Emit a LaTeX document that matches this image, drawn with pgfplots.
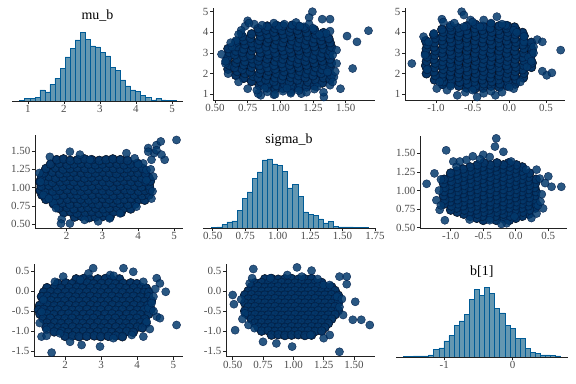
\documentclass[border=0pt]{standalone}
\usepackage{fontspec}
\setmainfont{Liberation Serif}
\usepackage{pgfplots}
\usepackage{pgfplotstable}
\pgfplotsset{compat=1.18}
\definecolor{ptfill}{HTML}{03396C}
\definecolor{ptedge}{HTML}{011F4B}
\definecolor{ptcore}{HTML}{0C3463}
\definecolor{hfill}{HTML}{6497B1}
\definecolor{hedge}{HTML}{005B96}
\definecolor{axcol}{HTML}{222222}
\definecolor{tickcol}{HTML}{4D4D4D}
\newcommand\ticksz{\fontsize{11}{12}\selectfont}
\newcommand\titlesz{\fontsize{14}{16}\selectfont}
\pgfplotsset{
  pbase/.style={scale only axis, axis x line*=bottom, axis y line*=left,
    axis line style={-, line width=0.7pt, draw=axcol},
    tick align=outside, major tick length=3bp,
    tick style={line width=0.7pt, draw=axcol},
    xticklabel style={font=\ticksz, text=tickcol, inner sep=1pt},
    yticklabel style={font=\ticksz, text=tickcol, inner sep=1.5pt},
    minor tick num=0},
  phist/.style={pbase, axis y line=none, ytick=\empty, ymin=0, ymax=216,
    title style={font=\titlesz, at={(0.5,1)}, anchor=base, yshift=4bp}},
  core/.style={only marks, mark=*, mark size=4.6pt, mark options={fill=ptcore, draw=none}},
  pts/.style={only marks, mark=*, mark size=4.1pt, mark options={fill=ptfill, draw=ptedge, line width=0.4pt, fill opacity=0.5, draw opacity=0.8}},
  out/.style={only marks, mark=*, mark size=4.1pt, mark options={fill=ptfill, draw=ptedge, line width=0.4pt, fill opacity=0.85, draw opacity=0.9}},
  hbar/.style={ybar interval, fill=hfill, draw=hedge, line width=0.5pt},
}
\begin{document}
\pgfplotstableread{
mu sigma
2.22 0.60
2.41 0.61
2.63 0.59
2.80 0.60
3.02 0.61
3.21 0.60
1.92 0.66
2.11 0.67
2.29 0.65
2.52 0.66
2.70 0.67
2.91 0.65
3.09 0.66
3.31 0.67
3.52 0.66
1.78 0.72
2.01 0.73
2.20 0.71
2.42 0.72
2.59 0.73
2.81 0.72
3.02 0.71
3.19 0.72
3.41 0.73
3.60 0.72
3.79 0.71
1.63 0.78
1.88 0.79
2.09 0.77
2.31 0.78
2.50 0.79
2.72 0.78
2.89 0.77
3.11 0.78
3.30 0.79
3.49 0.78
3.71 0.77
3.92 0.78
1.42 0.84
1.61 0.85
1.79 0.83
2.02 0.84
2.21 0.85
2.39 0.84
2.62 0.83
2.80 0.84
3.01 0.85
3.19 0.84
3.42 0.83
3.61 0.84
3.80 0.85
4.02 0.84
4.18 0.83
1.31 0.90
1.52 0.91
1.70 0.89
1.91 0.90
2.12 0.91
2.29 0.90
2.50 0.89
2.71 0.90
2.92 0.91
3.09 0.90
3.30 0.89
3.51 0.90
3.70 0.91
3.89 0.90
4.11 0.89
4.30 0.90
1.26 0.96
1.42 0.97
1.61 0.95
1.80 0.96
2.01 0.97
2.22 0.96
2.40 0.95
2.59 0.96
2.81 0.97
3.00 0.96
3.21 0.95
3.40 0.96
3.62 0.97
3.79 0.96
4.01 0.95
4.19 0.96
4.33 0.97
1.29 1.02
1.50 1.03
1.71 1.01
1.89 1.02
2.10 1.03
2.31 1.02
2.49 1.01
2.70 1.02
2.91 1.03
3.10 1.02
3.29 1.01
3.50 1.02
3.71 1.03
3.90 1.02
4.09 1.01
4.31 1.02
1.25 1.08
1.41 1.09
1.60 1.07
1.82 1.08
1.99 1.09
2.20 1.08
2.41 1.07
2.60 1.08
2.79 1.09
3.01 1.08
3.20 1.07
3.41 1.08
3.59 1.09
3.80 1.08
4.02 1.07
4.20 1.08
4.34 1.09
1.30 1.14
1.51 1.15
1.69 1.13
1.90 1.14
2.11 1.15
2.30 1.14
2.50 1.13
2.69 1.14
2.90 1.15
3.11 1.14
3.30 1.13
3.49 1.14
3.70 1.15
3.91 1.14
4.10 1.13
4.29 1.14
1.36 1.20
1.60 1.21
1.81 1.19
2.00 1.20
2.19 1.21
2.41 1.20
2.60 1.19
2.80 1.20
3.01 1.21
3.20 1.20
3.39 1.19
3.61 1.20
3.80 1.21
3.99 1.20
4.20 1.19
1.42 1.26
1.69 1.27
1.90 1.25
2.09 1.26
2.30 1.27
2.51 1.26
2.70 1.25
2.89 1.26
3.10 1.27
3.31 1.26
3.50 1.25
3.69 1.26
3.90 1.27
4.12 1.26
1.55 1.32
1.80 1.33
2.01 1.31
2.20 1.32
2.40 1.33
2.61 1.32
2.80 1.31
2.99 1.32
3.20 1.33
3.41 1.32
3.60 1.31
3.79 1.32
3.98 1.33
1.72 1.38
1.91 1.39
2.10 1.37
2.31 1.38
2.50 1.39
2.70 1.38
2.91 1.37
3.10 1.38
3.29 1.39
3.50 1.38
3.70 1.37
}\blobA
\pgfplotstableread{
mu b
2.31 0.30
2.52 0.31
2.69 0.29
2.91 0.30
3.12 0.31
3.29 0.29
3.51 0.30
1.80 0.19
2.02 0.20
2.19 0.18
2.41 0.19
2.62 0.20
2.79 0.18
3.01 0.19
3.22 0.20
3.39 0.18
3.61 0.19
3.82 0.20
3.99 0.18
1.50 0.08
1.71 0.09
1.89 0.07
2.11 0.08
2.32 0.09
2.49 0.07
2.70 0.08
2.91 0.09
3.09 0.07
3.31 0.08
3.52 0.09
3.69 0.07
3.90 0.08
4.11 0.09
4.25 0.07
1.41 -0.03
1.60 -0.02
1.79 -0.04
2.01 -0.03
2.22 -0.02
2.39 -0.04
2.60 -0.03
2.81 -0.02
2.99 -0.04
3.20 -0.03
3.41 -0.02
3.59 -0.04
3.80 -0.03
4.01 -0.02
4.19 -0.04
4.32 -0.03
1.35 -0.14
1.51 -0.13
1.70 -0.15
1.91 -0.14
2.10 -0.13
2.29 -0.15
2.51 -0.14
2.70 -0.13
2.89 -0.15
3.11 -0.14
3.30 -0.13
3.49 -0.15
3.71 -0.14
3.90 -0.13
4.09 -0.15
4.31 -0.14
1.40 -0.25
1.61 -0.24
1.80 -0.26
1.99 -0.25
2.21 -0.24
2.40 -0.26
2.59 -0.25
2.81 -0.24
3.00 -0.26
3.19 -0.25
3.41 -0.24
3.60 -0.26
3.79 -0.25
4.01 -0.24
4.20 -0.26
4.39 -0.25
1.30 -0.36
1.51 -0.35
1.70 -0.37
1.89 -0.36
2.11 -0.35
2.30 -0.37
2.49 -0.36
2.71 -0.35
2.90 -0.37
3.09 -0.36
3.31 -0.35
3.50 -0.37
3.69 -0.36
3.91 -0.35
4.10 -0.37
4.29 -0.36
1.27 -0.47
1.41 -0.46
1.60 -0.48
1.79 -0.47
2.01 -0.46
2.20 -0.48
2.39 -0.47
2.61 -0.46
2.80 -0.48
2.99 -0.47
3.21 -0.46
3.40 -0.48
3.59 -0.47
3.81 -0.46
4.00 -0.48
4.19 -0.47
4.38 -0.46
1.31 -0.58
1.50 -0.57
1.69 -0.59
1.91 -0.58
2.10 -0.57
2.29 -0.59
2.51 -0.58
2.70 -0.57
2.89 -0.59
3.11 -0.58
3.30 -0.57
3.49 -0.59
3.71 -0.58
3.90 -0.57
4.09 -0.59
4.31 -0.58
1.40 -0.69
1.59 -0.68
1.81 -0.70
2.00 -0.69
2.19 -0.68
2.41 -0.70
2.60 -0.69
2.79 -0.68
3.01 -0.70
3.20 -0.69
3.39 -0.68
3.61 -0.70
3.80 -0.69
3.99 -0.68
4.21 -0.70
1.50 -0.80
1.71 -0.79
1.89 -0.81
2.10 -0.80
2.31 -0.79
2.49 -0.81
2.70 -0.80
2.91 -0.79
3.09 -0.81
3.30 -0.80
3.51 -0.79
3.69 -0.81
3.90 -0.80
4.09 -0.79
4.24 -0.81
1.48 -0.91
1.61 -0.90
1.80 -0.92
1.99 -0.91
2.21 -0.90
2.40 -0.92
2.59 -0.91
2.81 -0.90
3.00 -0.92
3.19 -0.91
3.41 -0.90
3.60 -0.92
3.79 -0.91
4.01 -0.90
4.14 -0.92
1.70 -1.02
1.91 -1.01
2.09 -1.03
2.30 -1.02
2.51 -1.01
2.69 -1.03
2.90 -1.02
3.11 -1.01
3.29 -1.03
3.50 -1.02
3.71 -1.01
3.89 -1.03
2.00 -1.13
2.21 -1.12
2.39 -1.14
2.60 -1.13
2.81 -1.12
2.99 -1.14
3.20 -1.13
3.41 -1.12
3.59 -1.14
}\blobB
\pgfplotstableread{
sigma b
0.765 0.30
0.820 0.31
0.875 0.29
0.930 0.30
0.985 0.31
1.040 0.29
1.095 0.30
1.150 0.31
0.683 0.20
0.738 0.21
0.793 0.19
0.848 0.20
0.903 0.21
0.958 0.19
1.013 0.20
1.068 0.21
1.123 0.19
1.178 0.20
1.233 0.21
0.655 0.10
0.710 0.11
0.765 0.09
0.820 0.10
0.875 0.11
0.930 0.09
0.985 0.10
1.040 0.11
1.095 0.09
1.150 0.10
1.205 0.11
1.260 0.09
1.315 0.10
0.628 0.00
0.683 0.01
0.738 -0.01
0.793 0.00
0.848 0.01
0.903 -0.01
0.958 0.00
1.013 0.01
1.068 -0.01
1.123 0.00
1.178 0.01
1.233 -0.01
1.288 0.00
1.343 0.01
0.600 -0.10
0.655 -0.09
0.710 -0.11
0.765 -0.10
0.820 -0.09
0.875 -0.11
0.930 -0.10
0.985 -0.09
1.040 -0.11
1.095 -0.10
1.150 -0.09
1.205 -0.11
1.260 -0.10
1.315 -0.09
1.370 -0.11
0.628 -0.20
0.683 -0.19
0.738 -0.21
0.793 -0.20
0.848 -0.19
0.903 -0.21
0.958 -0.20
1.013 -0.19
1.068 -0.21
1.123 -0.20
1.178 -0.19
1.233 -0.21
1.288 -0.20
1.343 -0.19
0.600 -0.30
0.655 -0.31
0.710 -0.29
0.765 -0.30
0.820 -0.31
0.875 -0.29
0.930 -0.30
0.985 -0.31
1.040 -0.29
1.095 -0.30
1.150 -0.31
1.205 -0.29
1.260 -0.30
1.315 -0.31
1.370 -0.29
0.628 -0.40
0.683 -0.39
0.738 -0.41
0.793 -0.40
0.848 -0.39
0.903 -0.41
0.958 -0.40
1.013 -0.39
1.068 -0.41
1.123 -0.40
1.178 -0.39
1.233 -0.41
1.288 -0.40
1.343 -0.39
0.600 -0.50
0.655 -0.51
0.710 -0.49
0.765 -0.50
0.820 -0.51
0.875 -0.49
0.930 -0.50
0.985 -0.51
1.040 -0.49
1.095 -0.50
1.150 -0.51
1.205 -0.49
1.260 -0.50
1.315 -0.51
1.370 -0.49
0.628 -0.60
0.683 -0.59
0.738 -0.61
0.793 -0.60
0.848 -0.59
0.903 -0.61
0.958 -0.60
1.013 -0.59
1.068 -0.61
1.123 -0.60
1.178 -0.59
1.233 -0.61
1.288 -0.60
1.343 -0.59
0.655 -0.70
0.710 -0.71
0.765 -0.69
0.820 -0.70
0.875 -0.71
0.930 -0.69
0.985 -0.70
1.040 -0.71
1.095 -0.69
1.150 -0.70
1.205 -0.71
1.260 -0.69
1.315 -0.70
0.683 -0.80
0.738 -0.79
0.793 -0.81
0.848 -0.80
0.903 -0.79
0.958 -0.81
1.013 -0.80
1.068 -0.79
1.123 -0.81
1.178 -0.80
1.233 -0.79
1.288 -0.81
0.710 -0.90
0.765 -0.91
0.820 -0.89
0.875 -0.90
0.930 -0.91
0.985 -0.89
1.040 -0.90
1.095 -0.91
1.150 -0.89
1.205 -0.90
1.260 -0.91
0.738 -1.00
0.793 -0.99
0.848 -1.01
0.903 -1.00
0.958 -0.99
1.013 -1.01
1.068 -1.00
1.123 -0.99
1.178 -1.01
1.233 -1.00
0.820 -1.10
0.875 -1.09
0.930 -1.11
0.985 -1.10
1.040 -1.09
1.095 -1.11
1.150 -1.10
}\blobC
\begin{tikzpicture}
\path[use as bounding box] (0,0) rectangle (576bp,384bp);
% ---------- row 1 ----------
\begin{axis}[phist, at={(12bp,283bp)}, anchor=south west, width=171bp, height=72bp,
  xmin=0.556, xmax=5.306, xtick={1,2,3,4,5}, xticklabels={1,2,3,4,5}, title={mu\_b}]
\addplot[hbar] coordinates {(0.77,2) (0.91,7) (1.05,7) (1.19,10) (1.33,33) (1.47,27) (1.61,50) (1.75,68) (1.89,98) (2.03,132) (2.17,157) (2.31,183) (2.45,206) (2.59,185) (2.73,165) (2.87,162) (3.01,145) (3.15,135) (3.29,100) (3.43,92) (3.57,63) (3.71,45) (3.85,33) (3.99,28) (4.13,17) (4.27,10) (4.41,3) (4.55,8) (4.69,3) (4.83,2) (4.97,2) (5.11,0)};
\end{axis}
\begin{axis}[pbase, at={(213bp,284bp)}, anchor=south west, width=162bp, height=92bp,
  xmin=0.4847, xmax=1.724, ymin=0.724, ymax=5.18,
  xtick={0.5,0.75,1,1.25,1.5}, xticklabels={0.50,0.75,1.00,1.25,1.50},
  ytick={1,2,3,4,5}, yticklabels={1,2,3,4,5}]
\addplot[core] table[x=sigma, y=mu] {\blobA};
\addplot[pts] table[x=sigma, y=mu] {\blobA};
\addplot[out] table {
x y
1.674 4.08
1.586 3.54
1.51 3.82
1.553 2.25
1.333 0.87
1.245 5.00
1.22 4.72
1.32 4.64
1.38 4.64
1.38 4.06
1.35 3.95
0.75 4.56
0.55 2.94
1.43 2.49
1.46 1.27
1.41 1.84
1.43 3.14
1.08 1.11
1.16 1.03
0.95 0.98
0.85 0.95
0.90 4.27
0.99 4.30
1.09 4.35
1.18 4.27
0.70 3.95
0.63 3.30
0.58 2.49
0.60 2.00
0.68 1.60
0.75 1.27
0.83 1.03
1.28 1.36
1.38 1.44
1.36 2.08
0.82 1.20
0.90 1.12
0.96 1.00
1.02 1.15
1.08 1.05
1.14 1.18
1.20 1.10
1.26 1.25
0.88 1.30
1.05 1.30
0.80 4.40
0.86 4.35
0.95 4.45
1.03 4.40
1.12 4.48
1.15 4.30
1.22 4.40
0.73 4.30
0.76 4.45
0.70 4.10
0.68 3.90
0.66 3.60
1.25 4.20
1.30 3.90
0.58 2.60
0.62 3.50
1.40 2.90
1.42 2.10
1.40 1.60
1.33 1.10
};
\end{axis}
\begin{axis}[pbase, at={(405bp,284bp)}, anchor=south west, width=160bp, height=92bp,
  xmin=-1.423, xmax=0.759, ymin=0.724, ymax=5.18,
  xtick={-1,-0.5,0,0.5}, xticklabels={-1.0,-0.5,0.0,0.5},
  ytick={1,2,3,4,5}, yticklabels={1,2,3,4,5}]
\addplot[core] table[x=b, y=mu] {\blobB};
\addplot[pts] table[x=b, y=mu] {\blobB};
\addplot[out] table {
x y
-1.33 2.49
-1.17 3.79
-1.10 3.54
0.70 3.14
0.45 2.12
0.51 1.92
0.58 2.04
-0.65 5.00
-0.17 4.76
-0.35 4.60
-0.92 4.64
0.38 3.65
0.45 3.54
0.20 3.54
0.33 3.30
-0.99 1.28
-0.85 1.20
-0.71 0.95
-0.44 0.87
-0.19 0.95
0.06 1.27
0.15 1.60
0.24 2.33
0.26 2.80
0.06 4.10
-0.05 4.35
-0.62 4.84
-0.80 4.35
-0.40 4.27
-1.03 3.95
-0.62 4.27
-0.26 4.20
-0.53 4.60
-0.80 1.40
-0.60 1.10
-0.50 1.20
-0.35 1.05
-0.25 1.15
-0.10 1.10
0.00 1.35
-0.90 4.50
-0.75 4.45
-0.50 4.50
-0.25 4.45
-0.10 4.40
0.10 4.00
0.20 3.80
-1.15 2.90
-1.12 2.20
0.30 2.60
0.33 3.00
-0.95 1.60
};
\end{axis}
% ---------- row 2 ----------
\begin{axis}[pbase, at={(35bp,155.7bp)}, anchor=south west, width=148.3bp, height=93.3bp,
  xmin=1.114, xmax=5.26, ymin=0.445, ymax=1.718,
  xtick={2,3,4,5}, xticklabels={2,3,4,5},
  ytick={0.5,0.75,1,1.25,1.5}, yticklabels={0.50,0.75,1.00,1.25,1.50}]
\addplot[core] table[x=mu, y=sigma] {\blobA};
\addplot[pts] table[x=mu, y=sigma] {\blobA};
\addplot[out] table {
x y
1.24 1.20
1.27 1.08
1.35 0.90
1.63 0.79
1.86 0.57
1.84 0.51
2.09 0.51
2.88 0.54
3.49 0.65
3.95 0.74
4.37 0.85
4.23 1.10
4.14 1.33
4.28 1.54
4.51 1.58
4.63 1.63
5.07 1.65
4.74 1.38
4.44 1.47
4.51 1.51
4.65 1.45
4.28 1.49
4.37 1.38
4.00 1.32
4.23 1.24
1.53 1.42
2.09 1.49
2.37 1.45
3.67 1.47
2.65 1.38
3.90 1.40
4.40 0.95
4.42 1.15
4.35 1.25
2.50 0.56
3.20 0.58
1.50 0.85
1.70 0.72
};
\end{axis}
\begin{axis}[phist, at={(203bp,156bp)}, anchor=south west, width=172bp, height=72bp,
  xmin=0.425, xmax=1.75, xtick={0.5,0.75,1,1.25,1.5,1.75},
  xticklabels={0.50,0.75,1.00,1.25,1.50,1.75}, title={sigma\_b},
  title style={yshift=2.7bp}]
\addplot[hbar] coordinates {(0.492,2) (0.531,3) (0.570,10) (0.609,18) (0.648,21) (0.687,53) (0.726,88) (0.765,108) (0.804,148) (0.843,168) (0.882,204) (0.921,207) (0.960,192) (0.999,188) (1.038,170) (1.077,120) (1.116,130) (1.155,95) (1.194,48) (1.233,40) (1.272,37) (1.311,27) (1.350,15) (1.389,19) (1.428,5) (1.467,3) (1.506,3) (1.545,3) (1.584,2) (1.623,1) (1.662,1) (1.701,0)};
\end{axis}
\begin{axis}[pbase, at={(420bp,155.7bp)}, anchor=south west, width=146.7bp, height=92.3bp,
  xmin=-1.472, xmax=0.783, ymin=0.492, ymax=1.7325,
  xtick={-1,-0.5,0,0.5}, xticklabels={-1.0,-0.5,0.0,0.5},
  ytick={0.5,0.75,1,1.25,1.5}, yticklabels={0.50,0.75,1.00,1.25,1.50}]
\addplot[core] table[x=b, y=sigma] {\blobC};
\addplot[pts] table[x=b, y=sigma] {\blobC};
\addplot[out] table {
x y
-1.37 1.09
-1.25 1.23
-1.22 0.87
-1.17 0.74
-1.09 0.60
-1.07 1.54
-0.96 1.39
-0.76 1.41
-0.66 1.46
-0.50 1.48
-0.30 1.70
-0.32 1.59
-0.19 1.52
-0.07 1.39
0.16 1.28
0.32 1.28
0.37 1.16
0.50 1.19
0.55 1.05
0.70 1.05
0.42 0.76
0.24 0.63
-0.02 0.65
-0.14 0.56
-0.22 0.55
-0.40 0.60
-0.71 0.61
-0.91 1.32
-0.86 1.39
0.32 0.69
0.34 0.80
0.40 0.95
0.45 1.10
0.38 0.85
-1.18 1.00
-1.15 1.15
-1.15 0.80
-0.55 1.42
-0.40 1.45
};
\end{axis}
% ---------- row 3 ----------
\begin{axis}[pbase, at={(34bp,27.3bp)}, anchor=south west, width=149.3bp, height=92.7bp,
  xmin=1.141, xmax=5.277, ymin=-1.6425, ymax=0.675,
  xtick={2,3,4,5}, xticklabels={2,3,4,5},
  ytick={-1.5,-1,-0.5,0,0.5}, yticklabels={-1.5,-1.0,-0.5,0.0,0.5}]
\addplot[core] table[x=mu, y=b] {\blobB};
\addplot[pts] table[x=mu, y=b] {\blobB};
\addplot[out] table {
x y
1.35 -0.52
1.40 -0.22
1.49 -0.97
1.35 -1.14
1.49 -1.12
1.63 -1.54
1.72 0.23
1.95 0.36
2.42 0.28
2.65 0.44
2.78 0.57
3.25 0.40
3.62 0.57
3.89 0.48
4.17 0.23
4.54 0.32
4.63 0.19
4.79 -0.02
4.45 -0.14
4.31 -0.43
4.54 -0.64
4.63 -0.68
5.09 -0.85
4.26 -0.77
4.17 -1.14
3.85 -1.10
3.34 -1.18
2.97 -1.39
2.46 -1.35
2.14 -1.27
1.86 -1.06
4.40 -0.30
4.45 -0.50
4.35 -0.95
4.50 0.05
3.35 0.38
1.30 -0.80
};
\end{axis}
\begin{axis}[pbase, at={(226bp,27.3bp)}, anchor=south west, width=149bp, height=92.7bp,
  xmin=0.4448, xmax=1.673, ymin=-1.6425, ymax=0.675,
  xtick={0.5,0.75,1,1.25,1.5}, xticklabels={0.50,0.75,1.00,1.25,1.50},
  ytick={-1.5,-1,-0.5,0,0.5}, yticklabels={-1.5,-1.0,-0.5,0.0,0.5}]
\addplot[core] table[x=sigma, y=b] {\blobC};
\addplot[pts] table[x=sigma, y=b] {\blobC};
\addplot[out] table {
x y
0.50 -0.10
0.51 -0.33
0.52 -0.98
0.57 -0.21
0.60 -0.56
0.63 -0.85
0.64 0.19
0.67 0.55
0.66 0.32
0.81 0.32
0.95 0.40
1.03 0.59
1.07 0.36
1.15 0.51
1.25 0.15
1.30 0.15
1.38 0.36
1.44 0.36
1.44 0.17
1.36 -0.14
1.51 -0.27
1.41 -0.60
1.49 -0.72
1.56 -0.72
1.63 -0.85
1.25 -1.18
1.30 -1.10
1.38 -1.52
1.14 -1.10
0.99 -1.39
0.86 -1.31
0.75 -1.27
0.68 -0.93
1.38 -0.40
1.40 -0.20
0.58 -0.70
1.20 0.30
};
\end{axis}
\begin{axis}[phist, at={(396bp,27bp)}, anchor=south west, width=171.7bp, height=72bp,
  xmin=-1.706, xmax=0.804, xtick={-1,0}, xticklabels={-1,0}, title={b[1]}]
\addplot[hbar] coordinates {(-1.600,1) (-1.526,1) (-1.452,3) (-1.377,3) (-1.303,3) (-1.229,6) (-1.155,22) (-1.081,27) (-1.006,48) (-0.932,64) (-0.858,94) (-0.784,108) (-0.710,127) (-0.635,172) (-0.561,202) (-0.487,185) (-0.413,208) (-0.339,190) (-0.264,145) (-0.190,132) (-0.116,95) (-0.042,86) (0.033,55) (0.107,55) (0.181,25) (0.255,13) (0.329,10) (0.404,6) (0.478,6) (0.552,4) (0.626,3) (0.700,0)};
\end{axis}
\end{tikzpicture}
\end{document}
